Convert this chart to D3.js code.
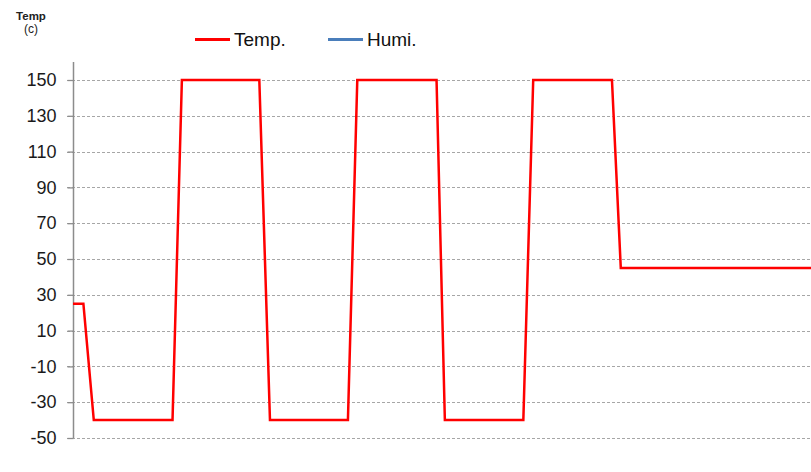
<!DOCTYPE html>
<html>
<head>
<meta charset="utf-8">
<script src="https://cdn.jsdelivr.net/npm/d3@7"></script>
<style>
  html, body { margin: 0; padding: 0; background: #fff; }
  svg { display: block; font-family: "Liberation Sans", Arial, sans-serif; }
</style>
</head>
<body>
<svg id="chart" width="811" height="472"></svg>
<script>
// Time (minutes) and temperature values
const timeMin = [0, 4, 8, 38.3, 41.9, 71.7, 75.8, 105.8, 109.4, 139.9, 143.1, 173.3, 177.1, 207.4, 210.8, 284];
const tempC   = [25, 25, -40, -40, 150, 150, -40, -40, 150, 150, -40, -40, 150, 150, 45, 45];
const humiTime = [];
const humiVals = [];
const yTicks = [150, 130, 110, 90, 70, 50, 30, 10, -10, -30, -50];
const seriesNames = ["Temp.", "Humi."];
const seriesColors = ["#ff0000", "#4a7ebb"];

const svg = d3.select("#chart");
const x = d3.scaleLinear().domain([0, 284]).range([73, 811]);
const y = d3.scaleLinear().domain([-50, 150]).range([438, 80]);

// gridlines
svg.append("g")
  .selectAll("line")
  .data(yTicks)
  .join("line")
  .attr("x1", 67).attr("x2", 811)
  .attr("y1", d => Math.round(y(d)) + 0.5)
  .attr("y2", d => Math.round(y(d)) + 0.5)
  .attr("stroke", "#a6a6a6")
  .attr("stroke-width", 1)
  .attr("stroke-dasharray", "3,2");

// y axis
const yAxis = d3.axisLeft(y).tickValues(yTicks).tickSize(6).tickPadding(11)
  .tickFormat(d => String(d));
const ga = svg.append("g").attr("transform", "translate(73.5,0)").call(yAxis);
ga.select(".domain").remove();
ga.selectAll(".tick line").attr("stroke", "#8c8c8c").attr("stroke-width", 1.3);
ga.selectAll(".tick text").attr("fill", "#1a1a1a").style("font-size", "18px")
  .style("font-family", "'Liberation Sans', Arial, sans-serif");
svg.append("line")
  .attr("x1", 73.5).attr("x2", 73.5)
  .attr("y1", 62).attr("y2", y(-50))
  .attr("stroke", "#8c8c8c").attr("stroke-width", 1.5);

// axis title
svg.append("text").attr("x", 31).attr("y", 20).attr("text-anchor", "middle")
  .style("font-size", "11.5px").style("font-weight", "bold").attr("fill", "#222").text("Temp");
svg.append("text").attr("x", 31).attr("y", 33).attr("text-anchor", "middle")
  .style("font-size", "12px").attr("fill", "#222").text("(c)");

// temperature line
const data = timeMin.map((t, i) => ({t, v: tempC[i]}));
const line = d3.line().x(d => x(d.t)).y(d => y(d.v));
svg.append("path").datum(data)
  .attr("d", line)
  .attr("fill", "none")
  .attr("stroke", seriesColors[0])
  .attr("stroke-width", 2.5)
  .attr("stroke-linejoin", "miter");

// humidity line (no data)
if (humiTime.length) {
  svg.append("path").datum(humiTime.map((t, i) => ({t, v: humiVals[i]})))
    .attr("d", line).attr("fill", "none").attr("stroke", seriesColors[1]).attr("stroke-width", 2.5);
}

// legend
const legendX = [195, 328];
seriesNames.forEach((name, i) => {
  svg.append("line")
    .attr("x1", legendX[i]).attr("x2", legendX[i] + 35)
    .attr("y1", 39.5).attr("y2", 39.5)
    .attr("stroke", seriesColors[i]).attr("stroke-width", 3);
  svg.append("text")
    .attr("x", legendX[i] + 39).attr("y", 46)
    .style("font-size", "19px").attr("fill", "#111").text(name);
});
</script>
</body>
</html>
